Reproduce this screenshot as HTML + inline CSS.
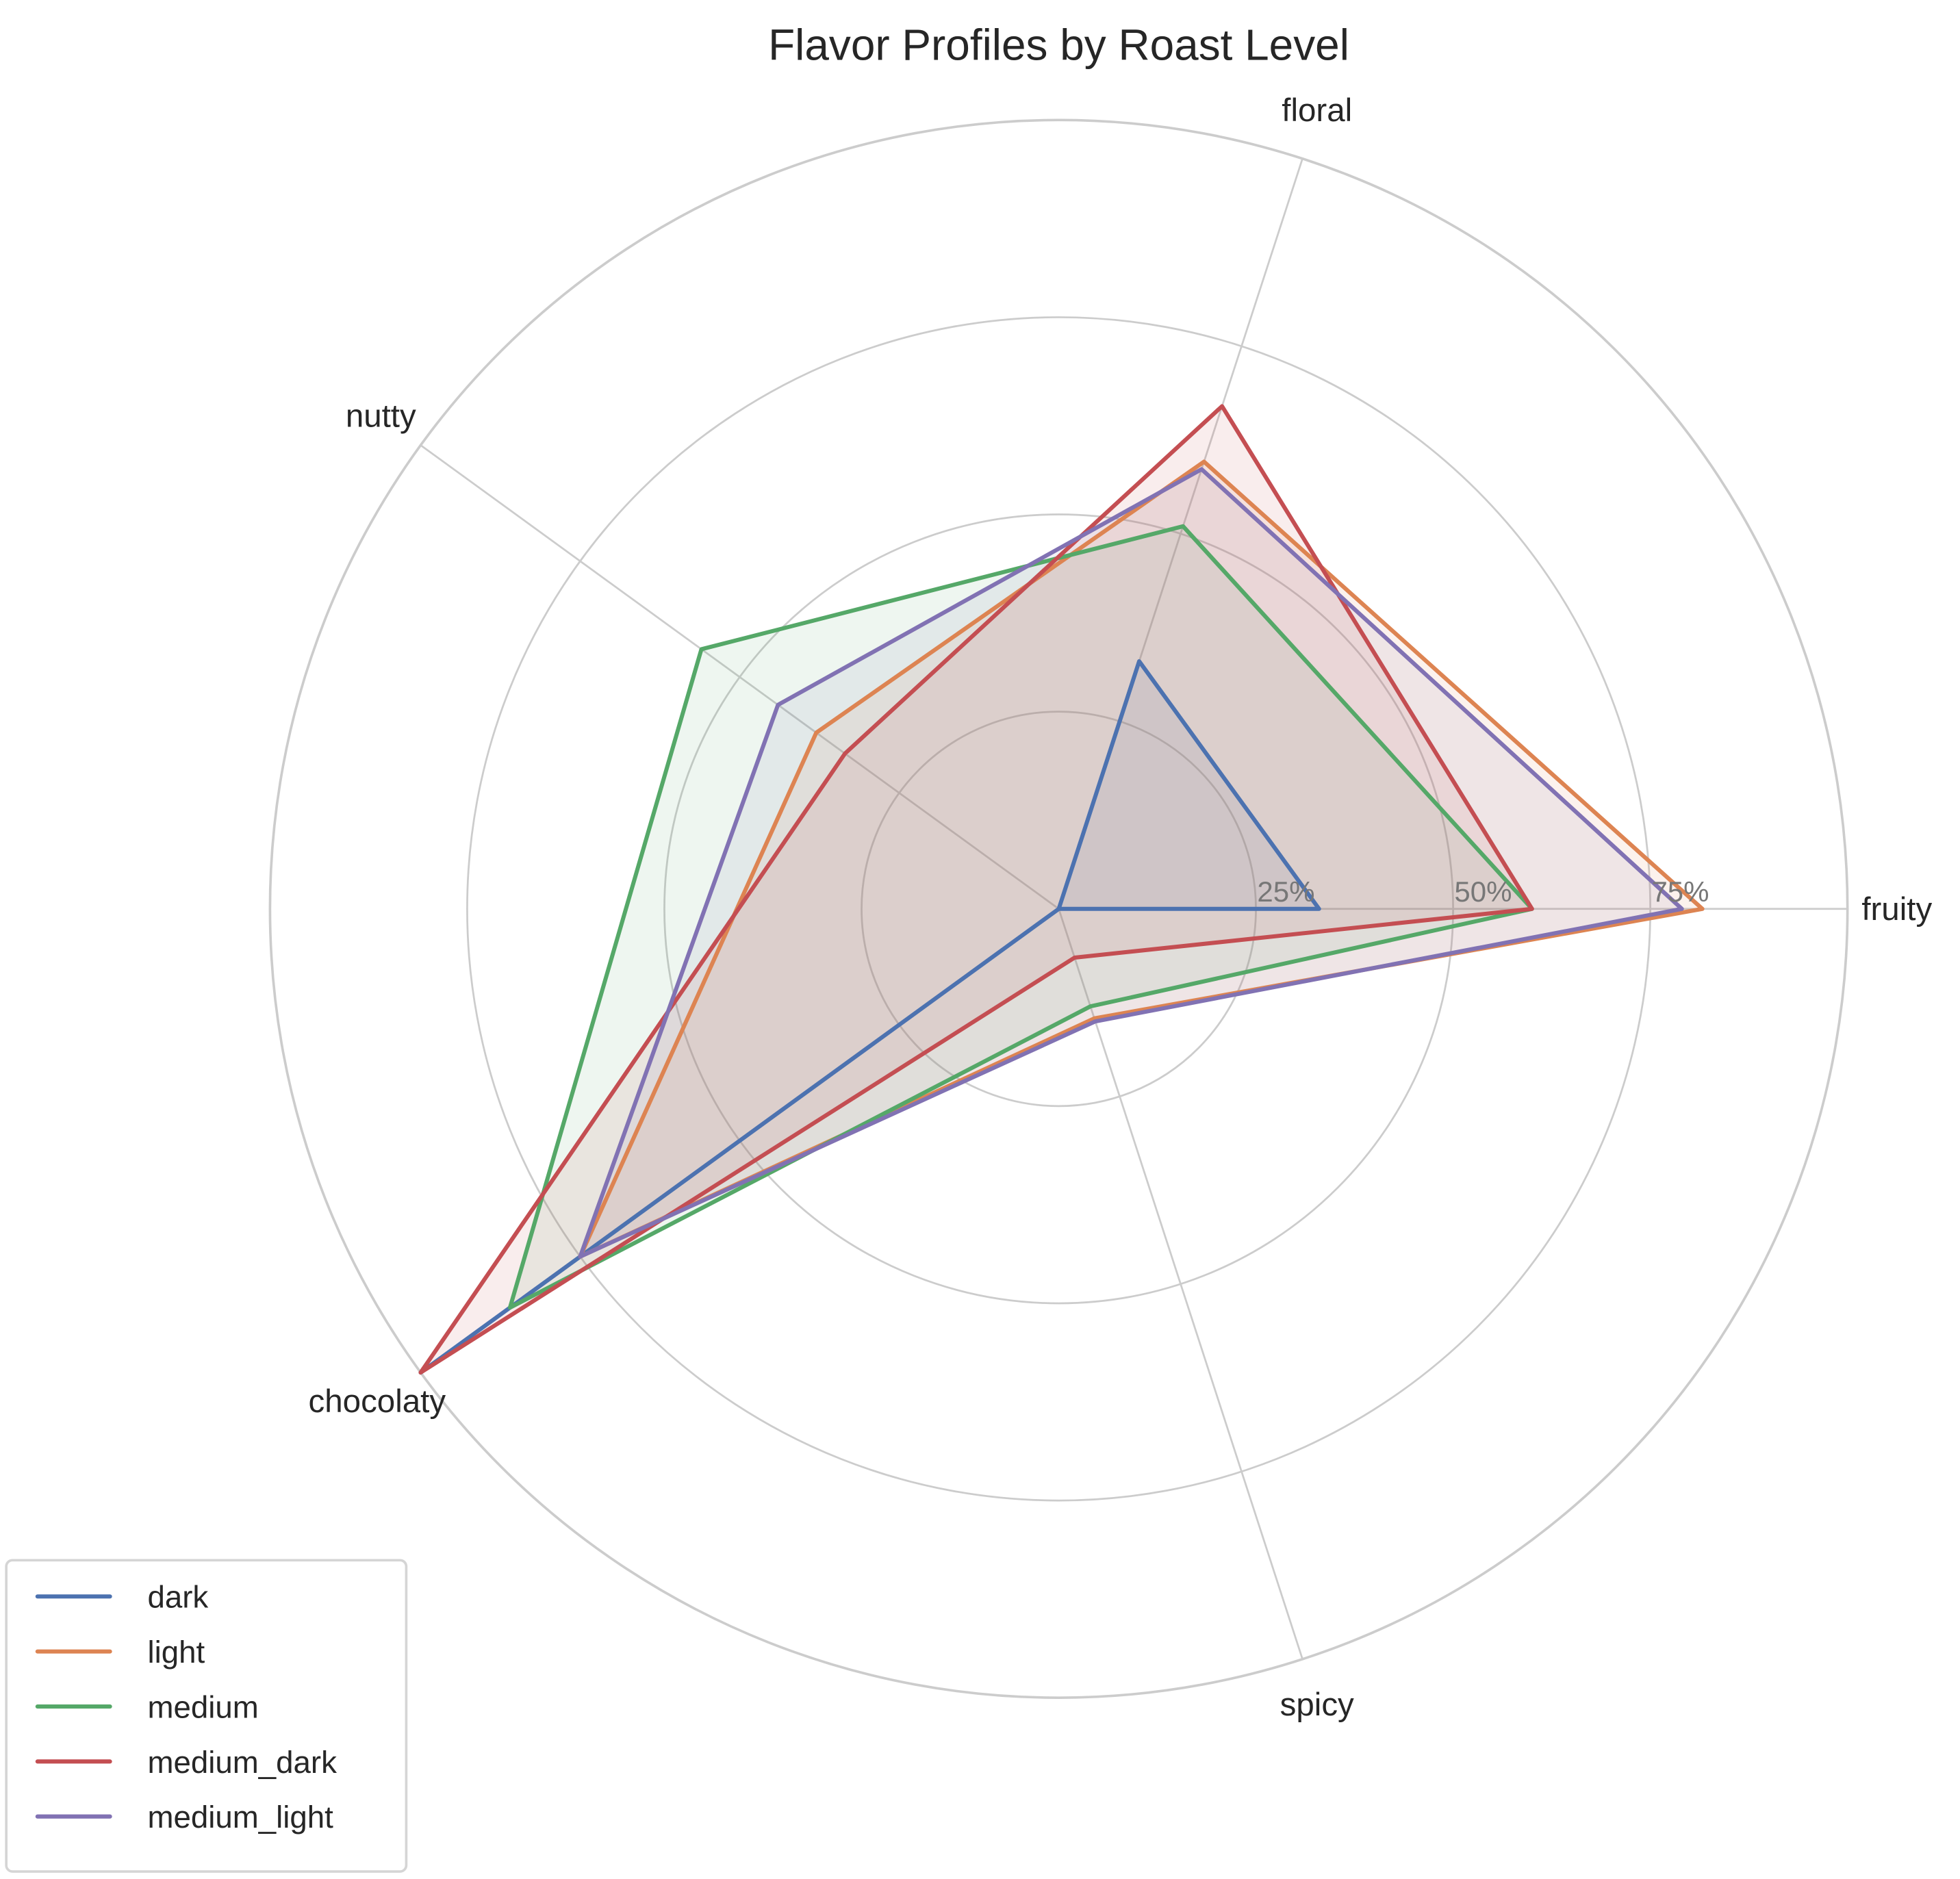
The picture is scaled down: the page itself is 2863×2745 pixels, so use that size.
<!DOCTYPE html>
<html><head><meta charset="utf-8"><style>
html,body{margin:0;padding:0;background:#fff;}
svg{display:block;font-family:"Liberation Sans",sans-serif;}
</style></head><body>
<svg id="chart" width="2863" height="2745" viewBox="0 0 1568 1503" preserveAspectRatio="none" xmlns="http://www.w3.org/2000/svg">
<rect width="1568" height="1503" fill="#fff"/>
<text x="847" y="48" font-size="35" text-anchor="middle" fill="#262626">Flavor Profiles by Roast Level</text>
<g id="grid"></g><g id="series"></g><g id="labels"></g>
<g>
<rect x="5" y="1248" width="320" height="249" rx="5" fill="#fff" fill-opacity="0.8" stroke="#d5d5d5" stroke-width="2"/>
<g id="legend-items"></g>
</g>
</svg>
<script>
const categories = ["fruity","floral","nutty","chocolaty","spicy"];
const seriesNames = ["dark","light","medium","medium_dark","medium_light"];
const darkValues = [33, 33, 0, 100, 0];
const lightValues = [81.6, 59.6, 38, 75, 14.6];
const mediumValues = [60, 51, 56, 86, 13];
const mediumDarkValues = [60, 67, 33.5, 100, 6.5];
const mediumLightValues = [79, 58.6, 44, 75, 15];
const tickValues = [25, 50, 75, 100];
const tickLabels = ["25%","50%","75%"];
const allValues = [darkValues, lightValues, mediumValues, mediumDarkValues, mediumLightValues];
const colors = ["#4c72b0","#dd8452","#55a868","#c44e52","#8172b3"];
const NS = "http://www.w3.org/2000/svg";
const cx = 847, cy = 727, R = 631, maxV = 100;
function rScale(v){ return v / maxV * R; }
function angle(i){ return i * 2 * Math.PI / categories.length; }
function pt(i, v){ const a = angle(i), r = rScale(v); return [cx + r*Math.cos(a), cy - r*Math.sin(a)]; }
function mk(tag, attrs, parent){ const e = document.createElementNS(NS, tag); for (const k in attrs) e.setAttribute(k, attrs[k]); parent.appendChild(e); return e; }
const grid = document.getElementById("grid");
tickValues.forEach((t, k) => {
  const c = mk("circle", {cx: cx, cy: cy, r: rScale(t), fill: "none", stroke: "#cccccc", "stroke-width": k === tickValues.length-1 ? 2 : 1.5}, grid);
  
  
});
categories.forEach((c, i) => {
  const [x, y] = pt(i, maxV);
  const l = mk("line", {x1: cx, y1: cy, x2: x, y2: y, stroke: "#cccccc", "stroke-width": 1.5}, grid);
  
  
});
const sg = document.getElementById("series");
allValues.forEach((vals, s) => {
  const pts = vals.map((v, i) => pt(i, v).join(",")).join(" ");
  const f = mk("polygon", {points: pts, fill: colors[s], "fill-opacity": 0.1, stroke: "none"}, sg);
  
  
});
allValues.forEach((vals, s) => {
  const pts = vals.map((v, i) => pt(i, v).join(",")).join(" ");
  const p = mk("polygon", {points: pts, fill: "none", stroke: colors[s], "stroke-width": 3.3, "stroke-linejoin": "round"}, sg);
  
  
});
const lg = document.getElementById("labels");
tickLabels.forEach((t, k) => {
  const e = mk("text", {x: cx + rScale(tickValues[k]) + 1, y: cy - 6, "font-size": 23, fill: "#777"}, lg);
  e.textContent = t;
  
  
});
const offX = [-11, -4, 9, 6, -4];
const offY = [9, 18, 15, 2, -3];
categories.forEach((c, i) => {
  const [x, y] = pt(i, 108);
  const e = mk("text", {x: x + offX[i], y: y + offY[i], "font-size": 26, fill: "#262626", "text-anchor": "middle"}, lg);
  e.textContent = c;
  
  
});
const li = document.getElementById("legend-items");
seriesNames.forEach((n, s) => {
  const y = 1277 + s * 44;
  const l = mk("line", {x1: 30, y1: y, x2: 88, y2: y, stroke: colors[s], "stroke-width": 3.3, "stroke-linecap": "round"}, li);
  
  
  const t = mk("text", {x: 118, y: y + 9, "font-size": 25, fill: "#262626"}, li);
  t.textContent = n;
  
  
});
</script>
</body></html>
